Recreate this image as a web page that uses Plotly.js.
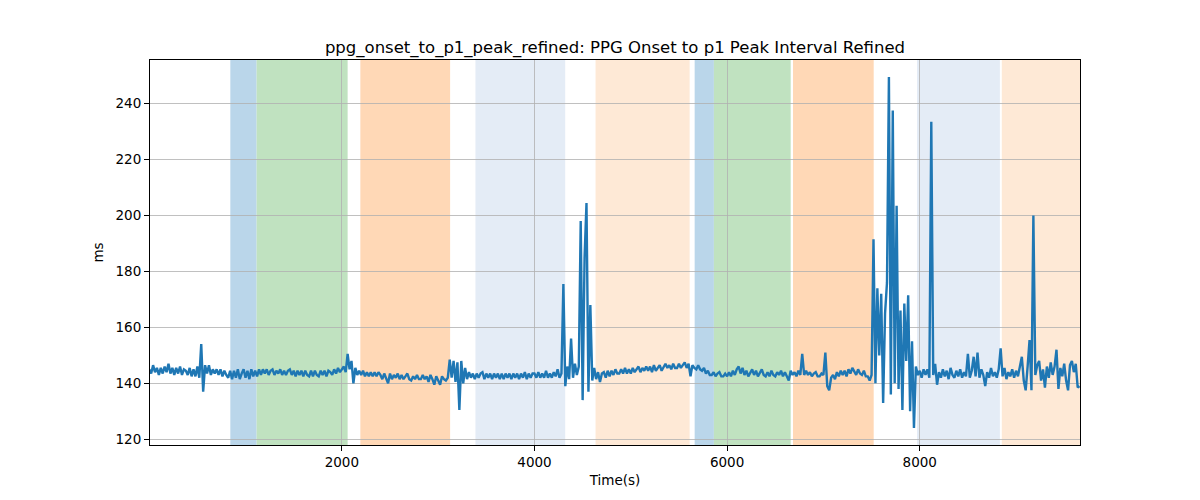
<!DOCTYPE html>
<html>
<head>
<meta charset="utf-8">
<script src="https://cdn.plot.ly/plotly-3.0.1.min.js"></script>
<style>
  body { margin: 0; background: #fff; }
  #chart { width: 1200px; height: 500px; }
</style>
</head>
<body>
<div id="chart"></div>
<script>
// sample spacing of the series, seconds
const SAMPLE_STEP = 20;

// ms values, one per sample, split by period
const valuesA = [ // 0 - 1980 s
  145, 143.5, 146.5, 144, 145.5, 143, 145.5, 143.5, 146, 144,
  147, 143.5, 145.5, 143, 145.5, 143.5, 146, 143, 145, 144.5,
  143, 145.5, 142.5, 145, 142.5, 146, 142, 154, 137, 146.5,
  143.5, 146.5, 143, 145, 143.5, 145, 143, 145, 142.5, 144.5,
  143, 142, 144.5, 141.5, 144.5, 142, 145, 141.5, 143.5, 145,
  142, 144.5, 141.5, 145, 142.5, 144.5, 142.5, 145, 143, 145,
  143.5, 145, 143, 144.5, 145, 143, 144.5, 143.5, 145, 143,
  144.5, 143, 144.5, 145, 143, 144.5, 142.5, 144.5, 143, 144.5,
  142.5, 144.5, 143, 142.5, 144.5, 142.5, 144.5, 143, 142.5, 144.5,
  143, 144.5, 142.5, 144.5, 144, 143, 145, 143.5, 145.5, 144,
];
const valuesB = [ // 2000 - 3980 s
  145, 146, 144, 150.5, 145, 148, 140, 145.5, 143, 144.5,
  143, 144.5, 142.5, 144, 142.5, 144, 142.5, 144, 142.5, 144,
  143, 141.5, 143.5, 142, 140, 143.5, 141.5, 143, 142, 143.5,
  141.5, 143, 141.5, 142.5, 143.5, 141.5, 141, 142.5, 141.5, 143,
  141.5, 141.5, 143, 141.5, 142.5, 140.5, 143, 141.5, 139.5, 142.5,
  141, 139.5, 142.5, 141.5, 141, 142, 148.5, 142, 148, 140.5,
  147.5, 130.5, 148, 140, 145.5, 141.5, 144, 142, 143.5, 141.5,
  143.5, 142, 143.5, 144, 141.5, 143.5, 142, 143.5, 141.5, 143.5,
  142, 143.5, 141.5, 143.5, 141.5, 143.5, 142, 143.5, 141.5, 143.5,
  142, 143.5, 141.5, 143.5, 142, 144, 141.5, 143.5, 142, 143.5,
];
const valuesC = [ // 4000 - 5980 s
  143.5, 142, 144, 142, 143.5, 142, 144.5, 142, 143.5, 142,
  144, 142.5, 145, 142, 143.5, 175.5, 139, 146, 141.5, 156,
  142, 147, 143, 146, 198, 134, 185, 204.5, 137, 168,
  141, 145.5, 141.5, 144, 140.5, 143.5, 144, 142, 144.5, 142.5,
  144.5, 143, 145, 143.5, 143.5, 145, 143.5, 145.5, 143.5, 145,
  143.5, 145.5, 144, 145, 146, 144, 145.5, 144.5, 146, 144.5,
  146, 144, 146.5, 144.5, 145.5, 146.5, 144.5, 146, 147, 145.5,
  146.5, 145, 147, 145.5, 145.5, 147, 145.5, 146.5, 147.5, 145.5,
  147, 142.5, 146.5, 145.5, 145, 146.5, 145, 144.5, 145.5, 143.5,
  144.5, 143, 143, 144, 142.5, 143.5, 144, 142.5, 142.5, 143.5,
];
const valuesD = [ // 6000 - 7980 s
  142.5, 144, 142.5, 144.5, 143, 145, 146, 143.5, 145.5, 143,
  144.5, 142.5, 144, 145, 143, 144.5, 142.5, 144, 145, 143,
  142.5, 144, 142.5, 144.5, 143, 142.5, 144, 143, 144.5, 142.5,
  144, 142.5, 141, 144.5, 143, 144, 142.5, 144.5, 143, 150.5,
  143, 144.5, 143, 144, 142.5, 143.5, 144, 142.5, 142.5, 143.5,
  143, 151, 139, 137.5, 142, 143, 141.5, 144, 142.5, 144.5,
  143, 144.5, 142.5, 145, 143.5, 145.5, 144, 143, 145, 143.5,
  143, 144.5, 142.5, 142.5, 141, 143, 191.5, 140, 174, 150,
  172, 133, 165, 176, 249.5, 136, 237.5, 140, 203.5, 138,
  166, 130.5, 168.5, 148, 171.5, 130, 155, 124, 146, 143,
];
const valuesE = [ // 8000 - 9660 s
  144.5, 142, 145, 143, 145, 142, 233.5, 143, 147, 139.5,
  144, 142, 145, 142.5, 144.5, 141.5, 145.5, 143, 142, 144.5,
  142.5, 145, 142, 144, 142.5, 150.5, 142, 144.5, 149.5, 142.5,
  151, 142, 145, 143, 139, 144, 142, 145.5, 142.5, 144,
  142, 145, 152.5, 142.5, 145.5, 141.5, 144, 142.5, 145, 142,
  144.5, 142.5, 146, 149.5, 141, 137.5, 146, 155.5, 137.5, 200,
  143, 146.5, 148, 141, 145, 138.5, 146, 142, 147.5, 143,
  146, 152, 138, 145.5, 142.5, 147, 141, 137.5, 146.5, 148,
  144, 147, 138.5, 139,
];

// shaded periods (seconds) and their kind
const periodStarts = [842, 1115, 2192, 3387, 4634, 5663, 5863, 6684, 7972, 8852];
const periodEnds   = [1115, 2060, 3124, 4319, 5611, 5863, 6660, 7522, 8832, 9700];
const periodKinds  = ['p1', 'p2', 'p3', 'p4', 'p5', 'p1', 'p2', 'p3', 'p4', 'p5'];

const xTicks = [2000, 4000, 6000, 8000];
const yTicks = [120, 140, 160, 180, 200, 220, 240];

const PERIOD_FILL = {
  p1: '#bad6ea',
  p2: '#c0e2c0',
  p3: '#ffd8b6',
  p4: '#e4ecf6',
  p5: '#fee9d6',
};

const values = [...valuesA, ...valuesB, ...valuesC, ...valuesD, ...valuesE];
const times = values.map((_, i) => i * SAMPLE_STEP);

const data = [{
  type: 'scatter',
  mode: 'lines',
  x: times,
  y: values,
  line: { color: '#1f77b4', width: 2.4 },
  hoverinfo: 'x+y',
}];

const shapes = periodStarts.map((s, i) => ({
  type: 'rect', xref: 'x', yref: 'paper',
  x0: s, x1: periodEnds[i], y0: 0, y1: 1,
  fillcolor: PERIOD_FILL[periodKinds[i]],
  line: { width: 0 },
  layer: 'below',
}));

const axisStyle = {
  showgrid: true,
  gridcolor: '#b0b0b0',
  gridwidth: 0.8,
  zeroline: false,
  showline: true,
  mirror: true,
  linecolor: 'black',
  linewidth: 1,
  ticks: 'outside',
  ticklen: 5,
  tickcolor: 'black',
  tickfont: { size: 13.5 },
};

const layout = {
  width: 1200,
  height: 500,
  margin: { l: 150, r: 120, t: 60, b: 55 },
  paper_bgcolor: 'white',
  plot_bgcolor: 'white',
  font: { family: 'DejaVu Sans, sans-serif', size: 14, color: 'black' },
  showlegend: false,
  title: {
    text: 'ppg_onset_to_p1_peak_refined: PPG Onset to p1 Peak Interval Refined',
    font: { size: 16.5 },
    x: 0.5, xref: 'paper', xanchor: 'center',
    y: 1, yref: 'paper', yanchor: 'bottom',
    pad: { b: 7 },
  },
  xaxis: {
    ...axisStyle,
    range: [8, 9664],
    tickvals: xTicks,
    title: { text: 'Time(s)', font: { size: 13.5 }, standoff: 6 },
  },
  yaxis: {
    ...axisStyle,
    range: [117.95, 255.6],
    tickvals: yTicks,
    title: { text: 'ms', font: { size: 13.5 }, standoff: 8 },
  },
  shapes: shapes,
};

Plotly.newPlot('chart', data, layout, { displayModeBar: false, staticPlot: true });
</script>
</body>
</html>
